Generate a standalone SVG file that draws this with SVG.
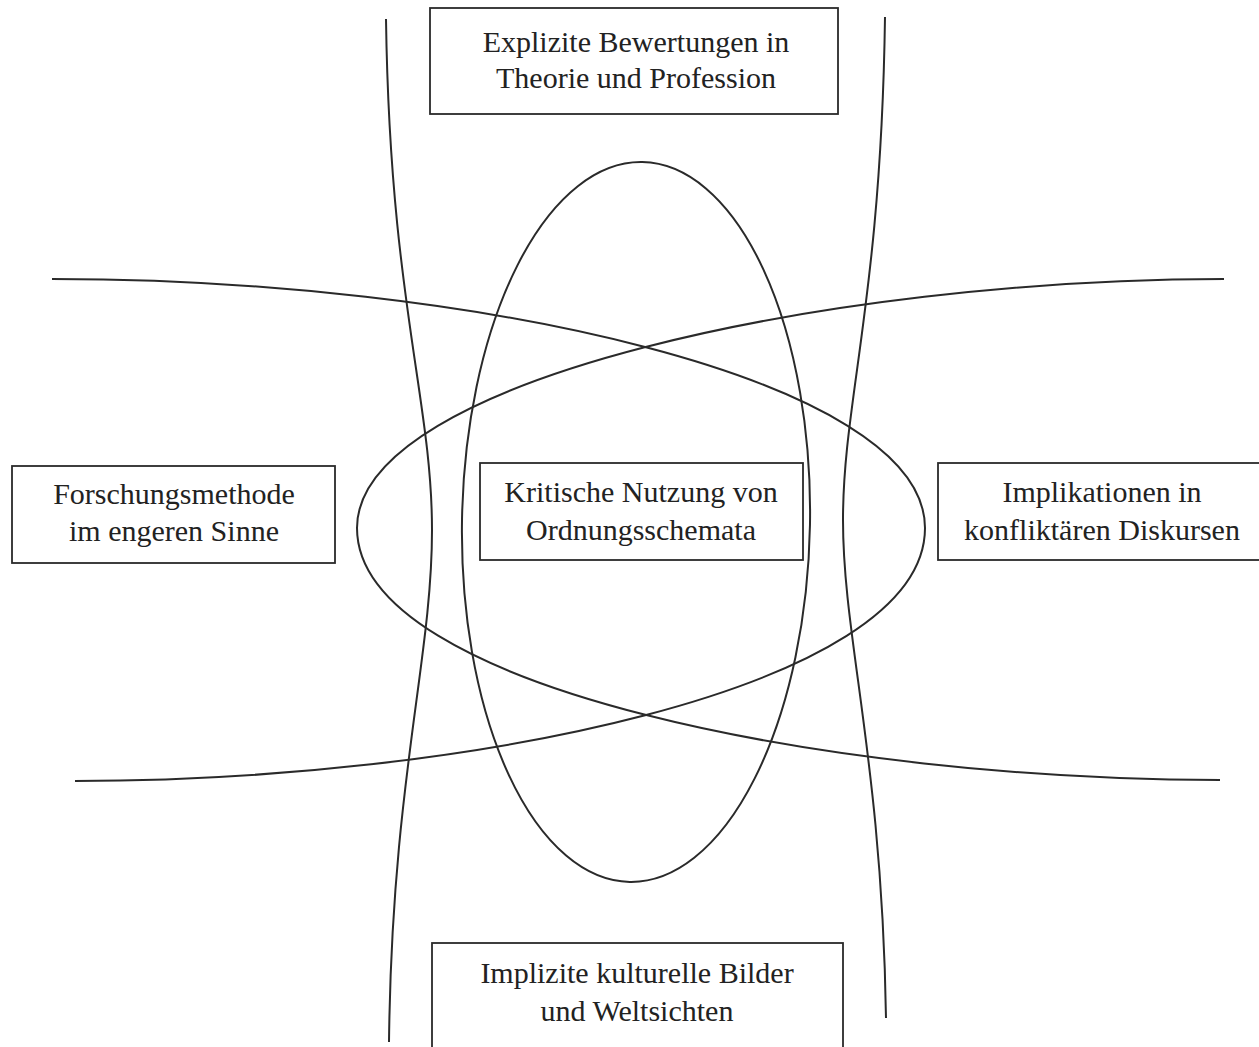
<svg xmlns="http://www.w3.org/2000/svg" width="1259" height="1047" viewBox="0 0 1259 1047">
<style>
.bg{fill:#ffffff}
.ln{fill:none;stroke:#2a2a2a;stroke-width:2}
.box{fill:#ffffff;stroke:#2a2a2a;stroke-width:1.8}
.t{font-family:"Liberation Serif","Times New Roman",serif;font-size:30px;fill:#222;text-anchor:middle}
</style>
<rect class="bg" x="0" y="0" width="1259" height="1047"/>
<g id="connectors">
<path class="ln" d="M386,19 C390,300 432,400 432,530 C432,660 392,780 389,1042"/>
<path class="ln" d="M885,17 C881,300 843,400 843,520 C843,640 882,760 886,1018"/>
<ellipse class="ln" cx="636" cy="522" rx="174" ry="360" transform="rotate(1 636 522)"/>
<path class="ln" d="M52,279 C472,279 925,378 925,528 C925,690 462,781 75,781"/>
<path class="ln" d="M1224,279 C835,279 357,378 357,528 C357,690 838,780 1220,780"/>
</g>
<g id="n-top">
<rect class="box" x="430" y="8" width="408" height="106"/>
<text class="t" x="636" y="52">Explizite Bewertungen in</text>
<text class="t" x="636" y="88">Theorie und Profession</text>
</g>
<g id="n-left">
<rect class="box" x="12" y="466" width="323" height="97"/>
<text class="t" x="174" y="504">Forschungsmethode</text>
<text class="t" x="174" y="541">im engeren Sinne</text>
</g>
<g id="n-center">
<rect class="box" x="480" y="463" width="323" height="97"/>
<text class="t" x="641" y="502">Kritische Nutzung von</text>
<text class="t" x="641" y="540">Ordnungsschemata</text>
</g>
<g id="n-right">
<rect class="box" x="938" y="463" width="330" height="97"/>
<text class="t" x="1102" y="502">Implikationen in</text>
<text class="t" x="1102" y="540">konfliktären Diskursen</text>
</g>
<g id="n-bottom">
<rect class="box" x="432" y="943" width="411" height="110"/>
<text class="t" x="637" y="983">Implizite kulturelle Bilder</text>
<text class="t" x="637" y="1021">und Weltsichten</text>
</g>
</svg>
